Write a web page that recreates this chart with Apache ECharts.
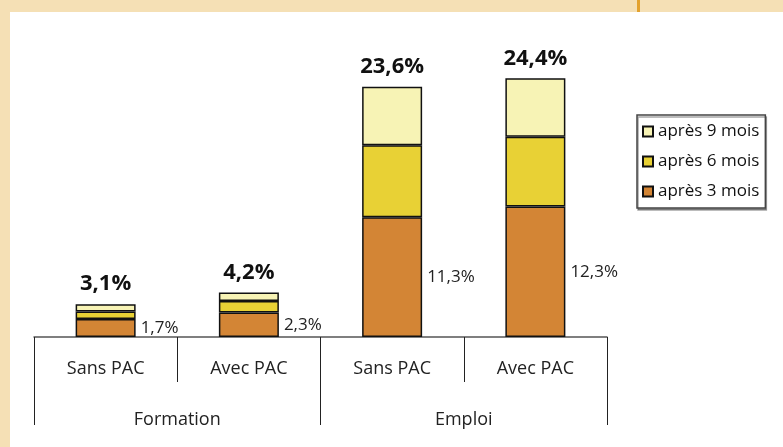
<!DOCTYPE html>
<html>
<head>
<meta charset="utf-8">
<script src="https://cdn.jsdelivr.net/npm/echarts@6.0.0/dist/echarts.min.js"></script>
<style>
  html, body { margin: 0; padding: 0; background: #f5e0b5; }
  #chart { width: 783px; height: 447px; }
</style>
</head>
<body>
<div id="chart"></div>
<script>
// données
const sousCategories = ['Sans PAC', 'Avec PAC', 'Sans PAC', 'Avec PAC'];
const groupes = ['Formation', 'Emploi'];
const noms = ['après 3 mois', 'après 6 mois', 'après 9 mois'];
const apres3mois = [1.7, 2.3, 11.3, 12.3];
const apres6mois = [0.7, 1.1, 6.8, 6.6];
const apres9mois = [0.7, 0.8, 5.5, 5.5];
const totaux = [3.1, 4.2, 23.6, 24.4];

const couleurs = ['#d38535', '#e8d135', '#f7f3b5'];
const police = "'Open Sans', 'Noto Sans', sans-serif";
const pct = v => String(v).replace('.', ',') + '%';

const chart = echarts.init(document.getElementById('chart'));

const barStyle = (i) => ({
  color: couleurs[i],
  borderColor: '#111',
  borderWidth: 1.5
});

chart.setOption({
  backgroundColor: '#f5e0b5',
  animation: false,
  textStyle: { fontFamily: police },
  graphic: [
    // panneau blanc
    { type: 'rect', z: -10, shape: { x: 10, y: 12, width: 790, height: 450 }, style: { fill: '#ffffff' } },
    // petit trait orange en haut
    { type: 'rect', z: -10, shape: { x: 637, y: 0, width: 3, height: 12 }, style: { fill: '#e3a22e' } }
  ],
  legend: {
    orient: 'vertical',
    left: 637,
    top: 115,
    data: ['après 9 mois', 'après 6 mois', 'après 3 mois'],
    icon: 'rect',
    itemWidth: 10,
    itemHeight: 10,
    itemGap: 13,
    padding: [8, 6, 8, 5],
    borderColor: '#444',
    borderWidth: 1.5,
    backgroundColor: '#fff',
    shadowColor: 'rgba(0,0,0,0.35)',
    shadowOffsetX: 1,
    shadowOffsetY: 2,
    textStyle: { fontSize: 17, color: '#111', fontFamily: police }
  },
  grid: { left: 34, right: 176, top: 72, bottom: 110 },
  xAxis: [
    {
      type: 'category',
      data: sousCategories,
      position: 'bottom',
      axisLine: { lineStyle: { color: '#555', width: 1.5 } },
      axisTick: { show: true, interval: 0, length: 45, lineStyle: { color: '#222', width: 1 } },
      axisLabel: { margin: 23, fontSize: 18, color: '#222', fontFamily: police }
    },
    {
      type: 'category',
      data: groupes,
      position: 'bottom',
      axisLine: { show: false },
      axisTick: { show: true, interval: 0, length: 88, lineStyle: { color: '#222', width: 1 } },
      axisLabel: { margin: 74, fontSize: 18, color: '#222', fontFamily: police }
    }
  ],
  yAxis: { type: 'value', min: 0, max: 25, show: false },
  series: [
    {
      name: noms[0], type: 'bar', stack: 'total', barWidth: 60,
      data: apres3mois,
      itemStyle: barStyle(0),
      label: {
        show: true, position: 'right', distance: 5,
        fontSize: 17, color: '#222', fontFamily: police,
        formatter: p => pct(p.value)
      }
    },
    {
      name: noms[1], type: 'bar', stack: 'total', barWidth: 60,
      data: apres6mois,
      itemStyle: barStyle(1)
    },
    {
      name: noms[2], type: 'bar', stack: 'total', barWidth: 60,
      data: apres9mois,
      itemStyle: barStyle(2),
      label: {
        show: true, position: 'top', distance: 9,
        fontSize: 22, fontWeight: 'bold', color: '#111', fontFamily: police,
        formatter: p => pct(totaux[p.dataIndex])
      }
    }
  ]
});
</script>
</body>
</html>
